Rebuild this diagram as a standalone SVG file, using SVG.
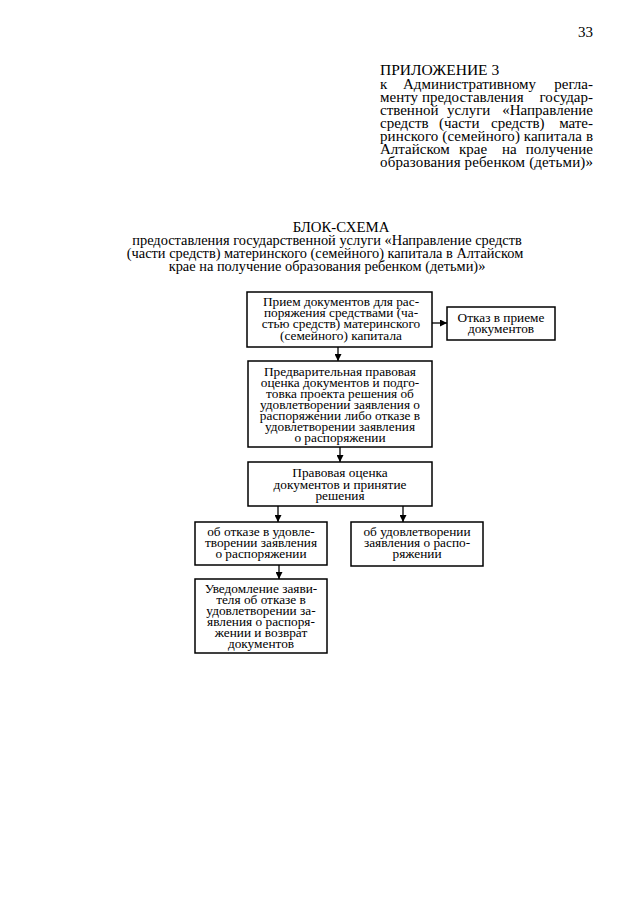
<svg xmlns="http://www.w3.org/2000/svg" width="640" height="905" viewBox="0 0 640 905">
<style>
text{font-family:"Liberation Serif","Times New Roman",serif;fill:#000}
.h{font-size:15px}
.big{font-size:15.5px}
.ttl{font-size:14.8px}
.sub{font-size:14.4px}
.b{font-size:13.3px;text-anchor:middle}
.box{fill:#fff;stroke:#000;stroke-width:1.5}
.con{stroke:#000;stroke-width:1.3;fill:none}
</style>
<defs>
<marker id="ah" viewBox="0 0 10 10" refX="10" refY="5" markerWidth="7" markerHeight="7" markerUnits="userSpaceOnUse" orient="auto">
<path d="M0,0 L10,5 L0,10 z" fill="#000"/>
</marker>
</defs>
<rect width="640" height="905" fill="#fff"/>
<text class="h" x="593" y="37" text-anchor="end">33</text>
<g id="appendix">
<text class="big" x="380" y="75">ПРИЛОЖЕНИЕ 3</text>
<text class="h" y="89"><tspan x="380">к</tspan><tspan x="403">Административному</tspan><tspan x="593" text-anchor="end">регла-</tspan></text>
<text class="h" y="102"><tspan x="380">менту</tspan><tspan x="422">предоставления</tspan><tspan x="593" text-anchor="end">государ-</tspan></text>
<text class="h" y="115"><tspan x="380">ственной</tspan><tspan x="447">услуги</tspan><tspan x="593" text-anchor="end">«Направление</tspan></text>
<text class="h" y="128"><tspan x="380">средств</tspan><tspan x="439">(части</tspan><tspan x="491">средств)</tspan><tspan x="593" text-anchor="end">мате-</tspan></text>
<text class="h" y="141" textLength="213" lengthAdjust="spacing" x="380">ринского (семейного) капитала в</text>
<text class="h" y="154"><tspan x="380">Алтайском</tspan><tspan x="459">крае</tspan><tspan x="502">на</tspan><tspan x="593" text-anchor="end">получение</tspan></text>
<text class="h" y="167" x="380" textLength="213" lengthAdjust="spacing">образования ребенком (детьми)»</text>
</g>
<g id="title">
<text class="ttl" x="341" y="232" text-anchor="middle">БЛОК-СХЕМА</text>
<text class="sub" x="327" y="245" text-anchor="middle">предоставления государственной услуги «Направление средств</text>
<text class="sub" x="325" y="258" text-anchor="middle">(части средств) материнского (семейного) капитала в Алтайском</text>
<text class="sub" x="327" y="271" text-anchor="middle">крае на получение образования ребенком (детьми)»</text>
</g>
<g id="connectors">
<line class="con" x1="338" y1="347" x2="338" y2="361" marker-end="url(#ah)"/>
<line class="con" x1="432" y1="323" x2="447" y2="323" marker-end="url(#ah)"/>
<line class="con" x1="340" y1="447" x2="340" y2="462" marker-end="url(#ah)"/>
<line class="con" x1="278" y1="506" x2="278" y2="522" marker-end="url(#ah)"/>
<line class="con" x1="403" y1="506" x2="403" y2="522" marker-end="url(#ah)"/>
<line class="con" x1="279" y1="565" x2="279" y2="579" marker-end="url(#ah)"/>
</g>
<g id="n1">
<rect class="box" x="247" y="292" width="185" height="55"/>
<text class="b" x="341" y="306">Прием документов для рас-</text>
<text class="b" x="341" y="317">поряжения средствами (ча-</text>
<text class="b" x="341" y="328">стью средств) материнского</text>
<text class="b" x="341" y="340">(семейного) капитала</text>
</g>
<g id="n2">
<rect class="box" x="447" y="307" width="108" height="33"/>
<text class="b" x="501" y="322">Отказ в приеме</text>
<text class="b" x="501" y="333">документов</text>
</g>
<g id="n3">
<rect class="box" x="248" y="361" width="184" height="86"/>
<text class="b" x="340" y="376">Предварительная правовая</text>
<text class="b" x="340" y="387">оценка документов и подго-</text>
<text class="b" x="340" y="398">товка проекта решения об</text>
<text class="b" x="340" y="409">удовлетворении заявления о</text>
<text class="b" x="340" y="420">распоряжении либо отказе в</text>
<text class="b" x="340" y="431">удовлетворении заявления</text>
<text class="b" x="340" y="442">о распоряжении</text>
</g>
<g id="n4">
<rect class="box" x="248" y="462" width="184" height="44"/>
<text class="b" x="340" y="477">Правовая оценка</text>
<text class="b" x="340" y="489">документов и принятие</text>
<text class="b" x="340" y="500">решения</text>
</g>
<g id="n5">
<rect class="box" x="195" y="522" width="132" height="43"/>
<text class="b" x="261" y="536">об отказе в удовле-</text>
<text class="b" x="261" y="547">творении заявления</text>
<text class="b" x="261" y="558">о распоряжении</text>
</g>
<g id="n6">
<rect class="box" x="351" y="522" width="132" height="44"/>
<text class="b" x="417" y="536">об удовлетворении</text>
<text class="b" x="417" y="547">заявления о распо-</text>
<text class="b" x="417" y="558">ряжении</text>
</g>
<g id="n7">
<rect class="box" x="195" y="579" width="132" height="74"/>
<text class="b" x="261" y="593">Уведомление заяви-</text>
<text class="b" x="261" y="604">теля об отказе в</text>
<text class="b" x="261" y="615">удовлетворении за-</text>
<text class="b" x="261" y="626">явления о распоря-</text>
<text class="b" x="261" y="637">жении и возврат</text>
<text class="b" x="261" y="648">документов</text>
</g>
</svg>
